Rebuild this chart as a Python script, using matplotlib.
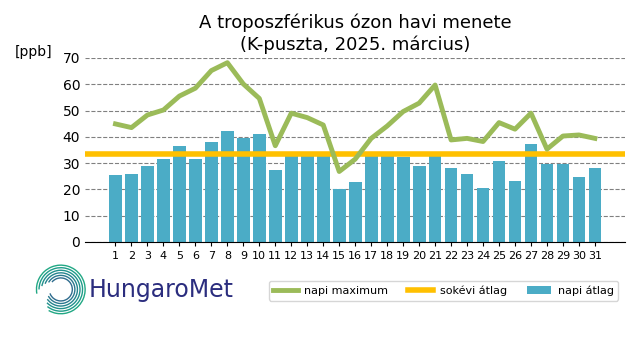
import numpy as np
import matplotlib.pyplot as plt
from matplotlib.patches import Arc

days = list(range(1, 32))
napi_atlag = [25.5, 25.9, 28.9, 31.6, 36.5, 31.6, 38.0, 42.2, 39.6, 41.1,
              27.4, 33.0, 33.0, 33.0, 20.0, 22.8, 33.0, 33.0, 32.3, 28.9,
              33.2, 28.2, 25.9, 20.5, 30.8, 23.2, 37.3, 29.7, 29.7, 24.7, 28.2]
napi_max = [44.9, 43.5, 48.3, 50.2, 55.5, 58.5, 65.2, 68.2, 60.1, 54.6,
            36.6, 49.0, 47.3, 44.5, 26.8, 31.5, 39.4, 44.1, 49.6, 52.8,
            59.7, 38.8, 39.4, 38.2, 45.4, 42.9, 49.0, 35.3, 40.3, 40.7, 39.4]
sokevi_atlag = 33.6

fig = plt.figure(figsize=(6.4, 3.6), dpi=100)
ax = fig.add_axes([0.133, 0.328, 0.844, 0.511])

ax.bar(days, napi_atlag, width=0.8, color='#4bacc6', label='napi átlag', zorder=2)
ax.axhline(sokevi_atlag, color='#ffc000', lw=4, label='sokévi átlag', zorder=3)
ax.plot(days, napi_max, color='#9bbb59', lw=3.5, label='napi maximum', zorder=4)

ax.set_ylim(0, 70)
ax.set_xlim(-0.9, 32.9)
ax.set_xticks(days)
ax.set_yticks(range(0, 71, 10))
ax.tick_params(axis='x', labelsize=8, length=3)
ax.tick_params(axis='y', labelsize=10, length=0)
ax.yaxis.grid(True, linestyle='--', color='grey', lw=0.8, zorder=0)
ax.set_axisbelow(True)
for s in ['top', 'right', 'left']:
    ax.spines[s].set_visible(False)

ax.set_title('A troposzférikus ózon havi menete\n(K-puszta, 2025. március)', fontsize=13)
fig.text(0.023, 0.845, '[ppb]', fontsize=10)

handles, labels = ax.get_legend_handles_labels()
order = [labels.index(l) for l in ['napi maximum', 'sokévi átlag', 'napi átlag']]
fig.legend([handles[i] for i in order], [labels[i] for i in order],
           loc='center', bbox_to_anchor=(0.693, 0.192), ncol=3, fontsize=8,
           handlelength=2.2, columnspacing=1.8, handletextpad=0.6)

# logo
lax = fig.add_axes([0.055, 0.125, 0.08, 0.142])
lax.set_xlim(-1, 1)
lax.set_ylim(-1, 1)
lax.axis('off')
cols = plt.cm.viridis(np.linspace(0.35, 0.6, 6))
for i, r in enumerate(np.linspace(0.45, 0.95, 6)):
    lax.add_patch(Arc((0, 0), 2 * r, 2 * r, theta1=200 + i * 8, theta2=140 + i * 10,
                      color=cols[i], lw=1))
fig.text(0.138, 0.195, 'HungaroMet', fontsize=17, color='#2b2d7e', va='center')

fig.savefig('out.png', dpi=100)
